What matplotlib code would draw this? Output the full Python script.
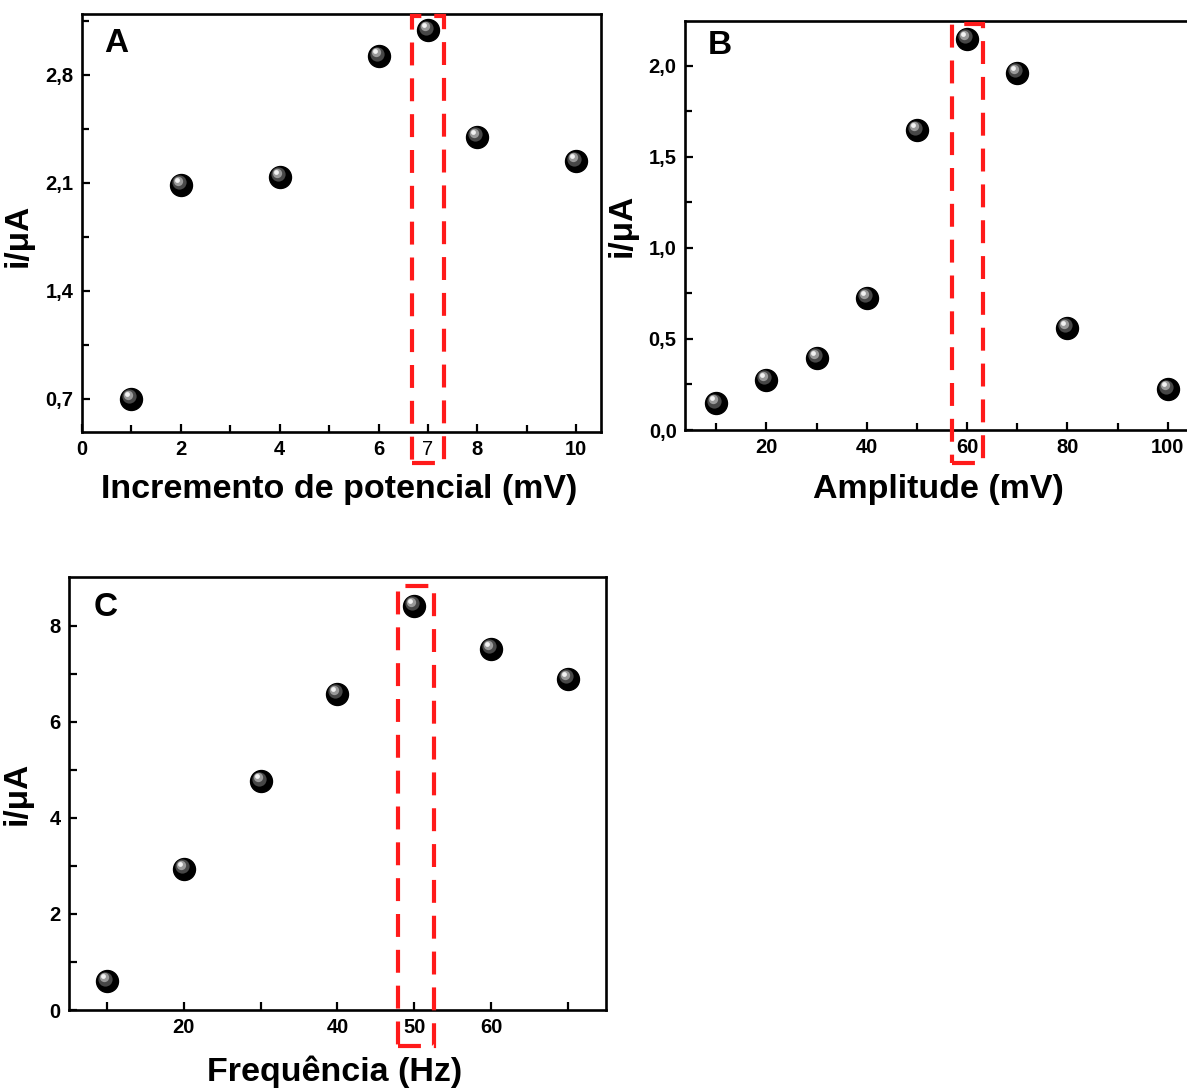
import numpy as np
import matplotlib
matplotlib.use('Agg')
import matplotlib.pyplot as plt
import matplotlib.transforms as mtransforms
from matplotlib.patches import Rectangle
from matplotlib.ticker import FixedLocator, FixedFormatter

plt.rcParams['font.family'] = ['Liberation Sans', 'DejaVu Sans']
plt.rcParams['font.weight'] = 'bold'

# data
incremento = [1, 2, 4, 6, 7, 8, 10]
i_incremento = [0.70, 2.09, 2.14, 2.92, 3.09, 2.40, 2.24]

amplitude = [10, 20, 30, 40, 50, 60, 70, 80, 100]
i_amplitude = [0.148, 0.275, 0.396, 0.725, 1.645, 2.148, 1.962, 0.56, 0.225]

frequencia = [10, 20, 30, 40, 50, 60, 70]
i_frequencia = [0.60, 2.94, 4.77, 6.59, 8.42, 7.53, 6.90]

W, H = 1187, 1090
fig = plt.figure(figsize=(W / 100, H / 100), dpi=100)


def px_axes(left, top, right, bottom):
    return fig.add_axes([left / W, 1 - bottom / H, (right - left) / W, (bottom - top) / H])


def balls(ax, x, y):
    ax.scatter(x, y, s=250, c='black', zorder=3, clip_on=False)
    layers = [(-2, 2.5, 105, '#474747'), (-3, 4, 45, '#9a9a9a'), (-4, 5, 12, '#f2f2f2')]
    for dx, dy, s, col in layers:
        tr = mtransforms.offset_copy(ax.transData, fig=fig, x=dx, y=dy, units='dots')
        ax.scatter(x, y, s=s, c=col, zorder=4, transform=tr, clip_on=False, linewidths=0)


def style(ax):
    for side in ['top', 'right', 'left', 'bottom']:
        ax.spines[side].set_linewidth(1.9)
    ax.tick_params(which='both', direction='in', width=1.6, top=False, right=False,
                   labelsize=14.5, pad=6)
    ax.tick_params(which='major', length=6)
    ax.tick_params(which='minor', length=5)


def red_box(ax, x0, x1, y0, y1):
    tr = mtransforms.blended_transform_factory(ax.transData, ax.transAxes)
    r = Rectangle((x0, y0), x1 - x0, y1 - y0, transform=tr, fill=False, ec='#ff1a1a',
                  lw=3, ls=(0, (5.5, 3.1)), clip_on=False, zorder=5)
    ax.add_patch(r)


# A
axA = px_axes(82, 14, 601, 432)
balls(axA, incremento, i_incremento)
axA.set_xlim(0, 10.5)
axA.set_ylim(0.486, 3.195)
axA.xaxis.set_major_locator(FixedLocator([0, 2, 4, 6, 7, 8, 10]))
axA.xaxis.set_major_formatter(FixedFormatter(['0', '2', '4', '6', '7', '8', '10']))
axA.xaxis.set_minor_locator(FixedLocator([1, 3, 5, 9]))
axA.yaxis.set_major_locator(FixedLocator([0.7, 1.4, 2.1, 2.8]))
axA.yaxis.set_major_formatter(FixedFormatter(['0,7', '1,4', '2,1', '2,8']))
axA.yaxis.set_minor_locator(FixedLocator([1.05, 1.75, 2.45, 3.15]))
style(axA)
axA.get_xticklabels()[4].set_fontweight('medium')
axA.set_xlabel('Incremento de potencial (mV)', fontsize=24.5, fontweight='bold')
axA.xaxis.set_label_coords(0.495, -0.1)
axA.set_ylabel('i/μA', fontsize=24, fontweight='bold')
axA.yaxis.set_label_coords(-0.094, 0.47)
axA.text(0.043, 0.93, 'A', transform=axA.transAxes, fontsize=24, fontweight='bold', va='center')
red_box(axA, 6.68, 7.33, -0.074, 0.995)

# B
axB = px_axes(685, 21, 1198, 430)
balls(axB, amplitude, i_amplitude)
axB.set_xlim(3.8, 106)
axB.set_ylim(0, 2.245)
axB.xaxis.set_major_locator(FixedLocator([20, 40, 60, 80, 100]))
axB.xaxis.set_minor_locator(FixedLocator([10, 30, 50, 70, 90]))
axB.yaxis.set_major_locator(FixedLocator([0, 0.5, 1.0, 1.5, 2.0]))
axB.yaxis.set_major_formatter(FixedFormatter(['0,0', '0,5', '1,0', '1,5', '2,0']))
axB.yaxis.set_minor_locator(FixedLocator([0.25, 0.75, 1.25, 1.75, 2.25]))
style(axB)
axB.set_xlabel('Amplitude (mV)', fontsize=24.5, fontweight='bold')
axB.xaxis.set_label_coords(0.494, -0.107)
axB.set_ylabel('i/μA', fontsize=24, fontweight='bold')
axB.yaxis.set_label_coords(-0.092, 0.5)
axB.text(0.045, 0.94, 'B', transform=axB.transAxes, fontsize=24, fontweight='bold', va='center')
red_box(axB, 57.0, 63.2, -0.081, 0.993)

# C
axC = px_axes(69, 577, 606, 1010)
balls(axC, frequencia, i_frequencia)
axC.set_xlim(5.05, 74.95)
axC.set_ylim(0, 9.02)
axC.xaxis.set_major_locator(FixedLocator([20, 40, 50, 60]))
axC.xaxis.set_minor_locator(FixedLocator([10, 30, 70]))
axC.yaxis.set_major_locator(FixedLocator([0, 2, 4, 6, 8]))
axC.yaxis.set_minor_locator(FixedLocator([1, 3, 5, 7]))
style(axC)
axC.tick_params(which='minor', length=6)
axC.set_xlabel('Frequência (Hz)', fontsize=24.5, fontweight='bold')
axC.xaxis.set_label_coords(0.495, -0.106)
axC.set_ylabel('i/μA', fontsize=24, fontweight='bold')
axC.yaxis.set_label_coords(-0.067, 0.5)
axC.text(0.045, 0.93, 'C', transform=axC.transAxes, fontsize=24, fontweight='bold', va='center')
red_box(axC, 47.9, 52.6, -0.083, 0.98)

fig.savefig('out.png', dpi=100)
